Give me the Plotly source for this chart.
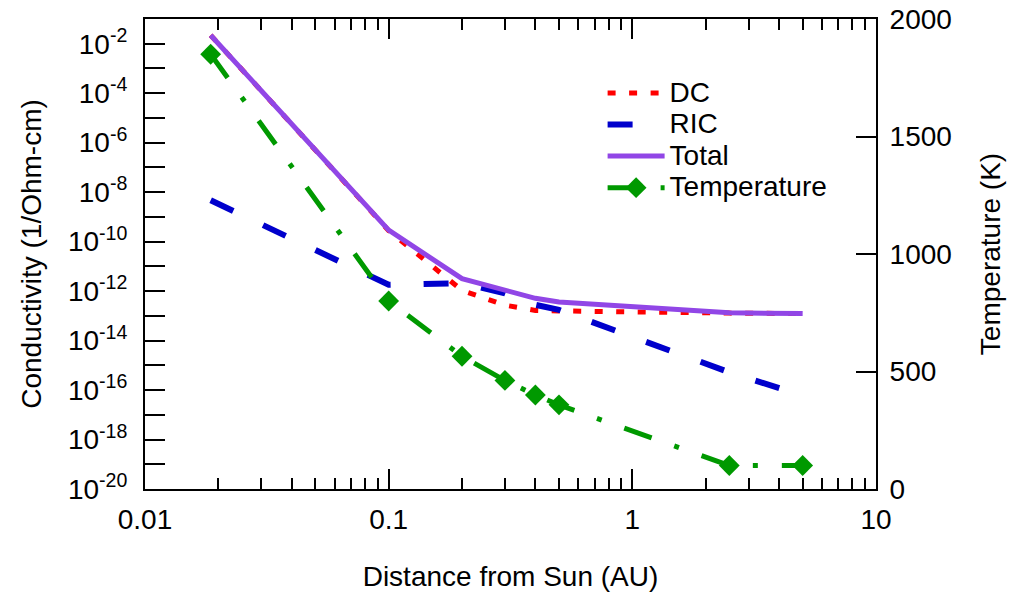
import plotly.graph_objects as go

# Heliocentric distance of each evaluated point (AU)
distance_au = [0.0186, 0.1, 0.2, 0.3, 0.4, 0.5, 2.5, 5.0]

# Conductivity components (1/Ohm-cm)
dc_cond = [2.2e-2, 2.8e-10, 1.07e-12, 2.7e-13, 1.66e-13, 1.58e-13, 1.29e-13, 1.23e-13]
ric_cond = [4.7e-9, 1.8e-12, 2.1e-12, 8.1e-13, 2.8e-13, 1.74e-13, 5.2e-16, 6.0e-17]
total_cond = [2.2e-2, 2.9e-10, 3.2e-12, 1.07e-12, 5.1e-13, 3.6e-13, 1.32e-13, 1.23e-13]

# Equilibrium temperature (K)
temperature_k = [1850, 800, 565, 462, 400, 358, 100, 100]

x_tick_vals = [0.01, 0.1, 1, 10]
x_tick_text = ["0.01", "0.1", "1", "10"]
y_major_exp = list(range(-20, 0, 2))
y_minor_exp = list(range(-19, 0, 2))
y2_tick_vals = [0, 500, 1000, 1500, 2000]

FONT = "Liberation Sans, Arial, sans-serif"
BIG = 28


def legend_name(s):
    return f'<span style="font-size:{BIG}px">{s}</span>'


fig = go.Figure()

fig.add_trace(go.Scatter(
    x=distance_au, y=dc_cond, name=legend_name("DC"), mode="lines",
    line=dict(color="#ff0000", width=5, dash="8px,13.5px"),
))
fig.add_trace(go.Scatter(
    x=distance_au, y=ric_cond, name=legend_name("RIC"), mode="lines",
    line=dict(color="#0000cc", width=6, dash="25px,33px"),
))
fig.add_trace(go.Scatter(
    x=distance_au, y=total_cond, name=legend_name("Total"), mode="lines",
    line=dict(color="#9146e6", width=5),
))
fig.add_trace(go.Scatter(
    x=distance_au, y=temperature_k, name=legend_name("Temperature"),
    mode="lines+markers", yaxis="y2",
    line=dict(color="#009900", width=5, dash="29px,24px,5px,24px"),
    marker=dict(symbol="diamond", size=16, color="#009900"),
))

axis_common = dict(
    showline=True, linecolor="black", linewidth=2,
    ticks="inside", tickcolor="black", tickwidth=2, ticklen=20,
    showgrid=False, zeroline=False, automargin=False,
    tickfont=dict(family=FONT, size=BIG, color="black"),
)

fig.update_layout(
    width=1017, height=608,
    margin=dict(l=145, r=141, t=19, b=119),
    paper_bgcolor="white", plot_bgcolor="white",
    font=dict(family=FONT, size=BIG, color="black"),
    xaxis=dict(
        type="log", range=[-2, 1],
        tickvals=x_tick_vals, ticktext=x_tick_text,
        mirror="ticks", ticklabelstandoff=4,
        minor=dict(ticks="inside", ticklen=11, tickwidth=2, tickcolor="black",
                   dtick="D1", showgrid=False),
        title=dict(text="Distance from Sun (AU)", standoff=33,
                   font=dict(family=FONT, size=BIG)),
        **axis_common,
    ),
    yaxis=dict(
        type="log", range=[-20, -1],
        tickvals=[10.0 ** e for e in y_major_exp],
        ticktext=[f"10<sup>{e}</sup>" for e in y_major_exp],
        ticklabelstandoff=10,
        minor=dict(ticks="inside", ticklen=20, tickwidth=2, tickcolor="black",
                   tickvals=[10.0 ** e for e in y_minor_exp], showgrid=False),
        title=dict(text="Conductivity (1/Ohm-cm)", standoff=18,
                   font=dict(family=FONT, size=BIG)),
        **axis_common,
    ),
    yaxis2=dict(
        overlaying="y", side="right", range=[0, 2000],
        tickvals=y2_tick_vals, ticklabelstandoff=6,
        title=dict(text="Temperature (K)", standoff=30,
                   font=dict(family=FONT, size=BIG)),
        **axis_common,
    ),
    legend=dict(
        x=0.626, y=0.887, xanchor="left", yanchor="top",
        bgcolor="rgba(0,0,0,0)", borderwidth=0,
        font=dict(family=FONT, size=22, color="black"),
        itemwidth=57,
    ),
    showlegend=True,
)

fig.write_html("out.html")
